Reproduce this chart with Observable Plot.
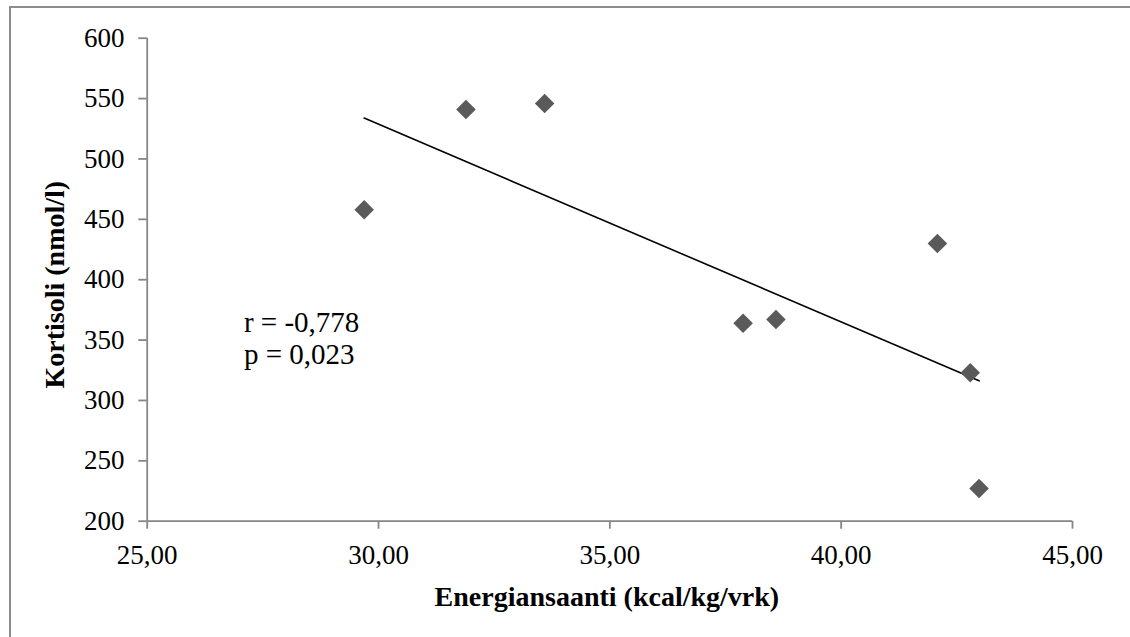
<!DOCTYPE html>
<html>
<head>
<meta charset="utf-8">
<script src="https://cdn.jsdelivr.net/npm/d3@7"></script>
<script src="https://cdn.jsdelivr.net/npm/@observablehq/plot@0.6"></script>
<style>
html, body { margin: 0; padding: 0; background: #fff; overflow: hidden; }
#wrap { position: relative; width: 1130px; height: 637px; }
#wrap svg { position: absolute; left: 0; top: 0; }
#border { position: absolute; left: 9px; top: 6px; width: 1119px; height: 700px;
  border-left: 2px solid #8c8c8c; border-top: 2px solid #8c8c8c; border-right: 1px solid #d9d9d9;
  pointer-events: none; }
</style>
</head>
<body>
<div id="wrap"><div id="border"></div></div>
<script>
// Data
const energiansaanti = [29.69, 31.89, 33.59, 37.88, 38.59, 42.08, 42.79, 42.98];
const kortisoli = [458, 541, 546, 364, 367, 430, 323, 227];

const xTicks = [25, 30, 35, 40, 45];
const xTickLabels = ["25,00", "30,00", "35,00", "40,00", "45,00"];
const yTicks = [200, 250, 300, 350, 400, 450, 500, 550, 600];

const xTitle = "Energiansaanti (kcal/kg/vrk)";
const yTitle = "Kortisoli (nmol/l)";

const statLabels = ["r = -0,778", "p = 0,023"];
const statX = [27.09, 27.09];
const statY = [356.5, 330.4];

const table = energiansaanti.map((x, i) => ({x, y: kortisoli[i]}));
const stats = statLabels.map((t, i) => ({text: t, x: statX[i], y: statY[i]}));

const font = "'Liberation Serif', 'Times New Roman', serif";
const axisGray = "#868686";

const chart = Plot.plot({
  width: 1130,
  height: 637,
  marginLeft: 146.7,
  marginRight: 58,
  marginTop: 37.7,
  marginBottom: 116.3,
  style: {fontFamily: font, fontSize: "27px", background: "transparent", color: "black"},
  x: {domain: [25, 45]},
  y: {domain: [200, 600]},
  marks: [
    Plot.ruleX([25], {stroke: axisGray, strokeWidth: 1.8}),
    Plot.ruleY([200], {stroke: axisGray, strokeWidth: 1.8}),
    Plot.axisY(yTicks, {anchor: "left", tickSize: 8.4, tickPadding: 14.3, stroke: axisGray,
      strokeWidth: 1.8, fill: "black", fontSize: 27, fontFamily: font, label: null}),
    Plot.axisX(xTicks, {anchor: "bottom", tickSize: 8, tickPadding: 15.4, stroke: axisGray,
      strokeWidth: 1.8, fill: "black", fontSize: 27, fontFamily: font, label: null,
      tickFormat: d => xTickLabels[xTicks.indexOf(d)]}),
    Plot.linearRegressionY(table, {x: "x", y: "y", stroke: "black", strokeWidth: 1.6, ci: 0}),
    Plot.dot(table, {x: "x", y: "y", symbol: "diamond2", r: 8.8, fill: "#5a5a5a", stroke: "none"}),
    Plot.text(stats, {x: "x", y: "y", text: "text", textAnchor: "start", lineAnchor: "bottom",
      fontSize: 29, fontFamily: font, fill: "black"}),
    Plot.text([xTitle], {frameAnchor: "bottom", dx: -3, dy: 84.3, lineAnchor: "bottom",
      textAnchor: "middle", fontWeight: "bold", fontSize: 28, fontFamily: font, fill: "black"}),
    Plot.text([yTitle], {frameAnchor: "left", rotate: -90, dx: -83.5, dy: 5, lineAnchor: "bottom",
      textAnchor: "middle", fontWeight: "bold", fontSize: 28, fontFamily: font, fill: "black"})
  ]
});
document.getElementById("wrap").prepend(chart);
</script>
</body>
</html>
